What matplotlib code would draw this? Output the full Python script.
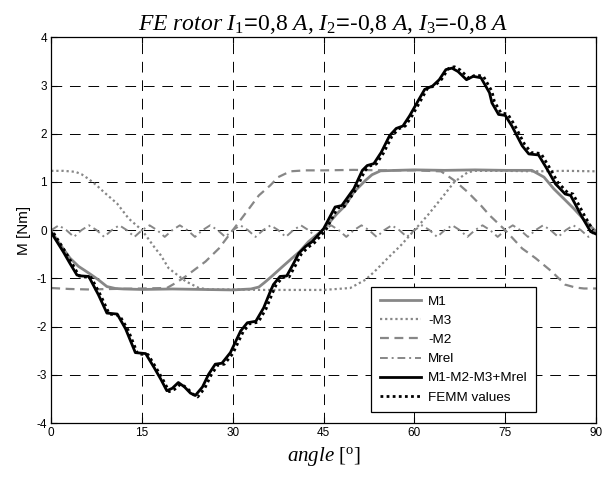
import matplotlib
matplotlib.use("Agg")
import matplotlib.pyplot as plt
import numpy as np

plt.rcParams['font.family'] = ['Liberation Sans', 'DejaVu Sans']
plt.rcParams['axes.unicode_minus'] = False
plt.rcParams['mathtext.fontset'] = 'custom'
plt.rcParams['mathtext.rm'] = 'Liberation Serif'
plt.rcParams['mathtext.it'] = 'Liberation Serif:italic'

# M1 (gray solid)
angM1 = [0, 1.5, 3.1, 4.5, 6.2, 7.8, 9.2, 10.6, 12, 15, 20, 25, 30, 33, 34.3, 35.3,
         36.5, 38, 39.8, 41, 42.5, 45, 47.2, 48.5, 50, 51.9, 53, 54.4, 57, 60, 65,
         70, 75, 79.4, 81.4, 83, 84.7, 86.3, 88, 90]
valM1 = [-0.02, -0.30, -0.58, -0.75, -0.89, -1.03, -1.17, -1.21, -1.22, -1.23, -1.22,
         -1.23, -1.24, -1.22, -1.18, -1.08, -0.95, -0.78, -0.58, -0.45, -0.24, 0.02,
         0.34, 0.50, 0.79, 1.03, 1.15, 1.23, 1.24, 1.25, 1.24, 1.25, 1.24, 1.24,
         1.10, 0.86, 0.65, 0.45, 0.22, -0.03]

# -M3 (gray dotted)
angM3 = [0, 2, 4, 5, 6.2, 7.5, 8.7, 10.9, 12.8, 15, 17.2, 18.1, 19.4, 22.2, 24.4, 26,
         30, 35, 40, 45, 49.4, 51.9, 53.4, 55.6, 57.8, 60, 62.2, 64.4, 66.6, 68.8, 70,
         75, 80, 85, 90]
valM3 = [1.23, 1.23, 1.21, 1.16, 1.06, 0.93, 0.79, 0.55, 0.24, 0.0, -0.38, -0.52,
         -0.79, -1.06, -1.20, -1.23, -1.23, -1.24, -1.24, -1.24, -1.20, -1.03, -0.86,
         -0.58, -0.31, 0.0, 0.31, 0.65, 1.0, 1.20, 1.23, 1.23, 1.22, 1.23, 1.22]

# -M2 (gray dashed)
angM2 = [0, 3, 6, 10, 15, 19.1, 20.5, 22.2, 25.5, 27.7, 30, 32.7, 34.3, 36.2, 37.5,
         39.5, 42, 45, 50, 55, 60, 64.4, 66.6, 68.8, 71, 72.4, 75, 77.8, 80, 82.7,
         84.9, 86.6, 88, 90]
valM2 = [-1.20, -1.22, -1.23, -1.22, -1.21, -1.20, -1.10, -0.96, -0.65, -0.38, 0.0,
         0.45, 0.72, 0.93, 1.10, 1.22, 1.24, 1.24, 1.25, 1.24, 1.24, 1.22, 1.03, 0.79,
         0.51, 0.31, 0.0, -0.38, -0.58, -0.86, -1.13, -1.19, -1.21, -1.21]

# Mrel (gray dash-dot), 1.25 deg steps
angRel = list(np.arange(0, 90.01, 1.25))
valRel = [0.0, 0.10, 0.0, -0.14, 0.0, 0.10, 0.0, -0.14, 0.0, 0.10, 0.0, -0.14,
          0.0, 0.10, 0.0, -0.14, 0.0, 0.10, 0.0, -0.14, 0.0, 0.10, 0.0, -0.14,
          0.0, 0.10, 0.0, -0.14, 0.0, 0.10, 0.0, -0.14, 0.0, 0.10, 0.0, -0.14,
          0.0, 0.10, 0.0, -0.14, 0.0, 0.10, 0.0, -0.14, 0.0, 0.10, 0.0, -0.14,
          0.0, 0.10, 0.0, -0.14, 0.0, 0.10, 0.0, -0.14, 0.0, 0.10, 0.0, -0.14,
          0.0, 0.10, 0.0, -0.14, 0.0, 0.10, 0.0, -0.14, 0.0, 0.10, 0.0, -0.14, 0.0]

# M1-M2-M3+Mrel (black solid)
angTot = [0, 1, 2, 3.1, 4.25, 5, 6.2, 7.8, 9.2, 10.9, 12.3, 13.9, 15.6, 17, 18.1, 19.1,
          20, 21, 22, 23, 23.8, 25, 26, 27.1, 28.2, 29.6, 31.3, 32.4, 33.8, 35.1, 36.2,
          36.7, 37.8, 38.9, 40, 40.9, 42, 43.1, 45, 46.9, 48, 50, 51.4, 52.2, 53.3,
          54.5, 55.9, 57, 58.1, 59.2, 60.6, 61.7, 63, 64.1, 65.2, 66.2, 67.2, 68.6,
          69.7, 71, 72.4, 72.8, 73.9, 75, 76.1, 77.8, 78.9, 80.5, 81.9, 83.3, 84.9,
          85.8, 87.7, 89.1, 90]
valTot = [-0.05, -0.25, -0.45, -0.69, -0.93, -0.95, -0.96, -1.34, -1.72, -1.74, -2.05,
          -2.54, -2.56, -2.85, -3.09, -3.33, -3.28, -3.16, -3.25, -3.38, -3.43, -3.25,
          -2.99, -2.78, -2.76, -2.54, -2.09, -1.92, -1.89, -1.61, -1.27, -1.13, -0.96,
          -0.95, -0.70, -0.48, -0.34, -0.24, 0.03, 0.48, 0.51, 0.86, 1.24, 1.34, 1.38,
          1.61, 1.96, 2.11, 2.16, 2.37, 2.68, 2.92, 2.99, 3.12, 3.33, 3.36, 3.29, 3.12,
          3.19, 3.16, 2.85, 2.64, 2.40, 2.38, 2.16, 1.75, 1.58, 1.56, 1.27, 0.96, 0.75,
          0.72, 0.27, -0.03, -0.08]

# FEMM values (black dotted)
angFem = [0.4, 1.4, 2.4, 3.5, 4.6, 5.4, 6.6, 8.2, 9.6, 11.3, 12.7, 14.3, 16, 17.4,
          18.5, 19.5, 20.4, 21.4, 22.4, 23.4, 24.2, 25.4, 26.4, 27.5, 28.6, 30, 31.7,
          32.8, 34.2, 35.5, 36.6, 37.1, 38.2, 39.3, 40.4, 41.3, 42.4, 43.5, 45.4, 47.3,
          48.4, 50.4, 51.8, 52.6, 53.7, 54.9, 56.3, 57.4, 58.5, 59.6, 61, 62.1, 63.4,
          64.5, 65.6, 66.6, 67.6, 69, 70.1, 71.4, 72.8, 73.2, 74.3, 75.4, 76.5, 78.2,
          79.3, 80.9, 82.3, 83.7, 85.3, 86.2, 88.1, 89.5]
valFem = [-0.06, -0.26, -0.46, -0.70, -0.95, -0.97, -0.98, -1.36, -1.74, -1.77, -2.07,
          -2.57, -2.58, -2.87, -3.11, -3.35, -3.30, -3.19, -3.27, -3.40, -3.46, -3.27,
          -3.01, -2.80, -2.78, -2.56, -2.11, -1.94, -1.91, -1.63, -1.29, -1.15, -0.98,
          -0.97, -0.72, -0.50, -0.36, -0.26, 0.01, 0.46, 0.49, 0.85, 1.23, 1.33, 1.37,
          1.60, 1.95, 2.10, 2.16, 2.37, 2.68, 2.93, 3.00, 3.13, 3.35, 3.39, 3.32, 3.15,
          3.22, 3.19, 2.88, 2.67, 2.43, 2.41, 2.19, 1.78, 1.61, 1.59, 1.30, 0.99, 0.78,
          0.75, 0.30, 0.0]

gray = '#878787'

fig = plt.figure(figsize=(6.11, 4.83), dpi=100)
ax = fig.add_axes([0.0838, 0.1242, 0.8917, 0.7986])

ax.plot(angM1, valM1, color=gray, lw=2.0, label='M1')
ax.plot(angM3, valM3, color=gray, lw=1.6, linestyle=(0, (1, 1.3)), label='-M3')
ax.plot(angM2, valM2, color=gray, lw=1.6, linestyle=(0, (4, 2.5)), label='-M2')
ax.plot(angRel, valRel, color=gray, lw=1.4, linestyle=(0, (4, 2, 1, 2)), label='Mrel')
ax.plot(angTot, valTot, color='black', lw=2.0, label='M1-M2-M3+Mrel')
ax.plot(angFem, valFem, color='black', lw=2.0, linestyle=(0, (1, 1.2)), label='FEMM values')

ax.set_xlim(0, 90)
ax.set_ylim(-4, 4)
ax.set_xticks([0, 15, 30, 45, 60, 75, 90])
ax.set_yticks([-4, -3, -2, -1, 0, 1, 2, 3, 4])
ax.grid(True, color='black', lw=0.7, linestyle=(0, (11, 8)))
ax.tick_params(direction='in', top=True, right=True, length=4, width=0.8,
               labelsize=8.5, pad=3)
for s in ax.spines.values():
    s.set_linewidth(0.9)

ax.set_title(r'$\mathit{FE\ rotor\ I_{1}}$=$\mathit{0{,}8\ A{,}\ I_{2}}$=-$\mathit{0{,}8\ A{,}\ I_{3}}$=-$\mathit{0{,}8\ A}$',
             fontsize=17, pad=5)
ax.set_xlabel(r'$\mathit{angle}\ [^{\mathrm{o}}]$', fontsize=15, labelpad=4)
ax.set_ylabel('M [Nm]', fontsize=11, labelpad=4)

leg = ax.legend(loc='lower right', bbox_to_anchor=(0.89, 0.0285), borderaxespad=0,
                fontsize=9.7, frameon=True, fancybox=False, framealpha=1,
                edgecolor='black', handlelength=3.1, labelspacing=0.5,
                borderpad=0.62, handletextpad=0.5)
leg.get_frame().set_linewidth(0.9)

fig.savefig('out.png', dpi=100)
